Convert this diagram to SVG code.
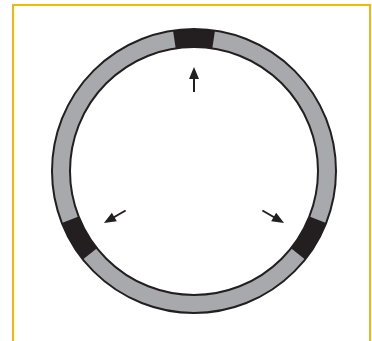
<svg xmlns="http://www.w3.org/2000/svg" xmlns:xlink="http://www.w3.org/1999/xlink" width="372" height="341" viewBox="0 0 372 341">
<style>
.frame{fill:none;stroke:#F5B800;stroke-width:2}
.ring{fill:#A7A9AC;fill-rule:evenodd}
.edge{fill:none;stroke:#231F20;stroke-width:2}
.seg{fill:#231F20}
.arr{stroke:#231F20;stroke-width:2;fill:none}
.head{fill:#231F20}
</style>
<defs>
<path id="segment" class="seg" d="M173.01,30.56 A142,142 0 0 1 214.99,30.56 L212.33,48.36 A124,124 0 0 0 175.67,48.36 Z"/>
<g id="arrow">
<line class="arr" x1="194" y1="92" x2="194" y2="76"/>
<polygon class="head" points="194,67 199,79 189,79"/>
</g>
</defs>
<rect width="372" height="341" fill="#fff"/>
<path class="frame" d="M13,341 V5 H370 V341"/>
<g id="ring">
<path class="ring" d="M52,171 A142,142 0 1 0 336,171 A142,142 0 1 0 52,171 Z M70,171 A124,124 0 1 0 318,171 A124,124 0 1 0 70,171 Z"/>
<use xlink:href="#segment"/>
<use xlink:href="#segment" transform="rotate(120 194 171)"/>
<use xlink:href="#segment" transform="rotate(-120 194 171)"/>
<circle class="edge" cx="194" cy="171" r="142"/>
<circle class="edge" cx="194" cy="171" r="124"/>
</g>
<g id="arrows">
<use xlink:href="#arrow"/>
<use xlink:href="#arrow" transform="rotate(120 194 171)"/>
<use xlink:href="#arrow" transform="rotate(-120 194 171)"/>
</g>
</svg>
